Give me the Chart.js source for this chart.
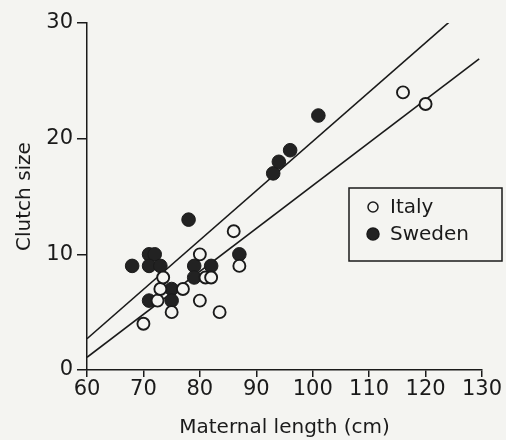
<!DOCTYPE html>
<html lang="en">
<head>
  <meta charset="UTF-8" />
  <title>Clutch size vs maternal length</title>
  <script src="https://cdn.jsdelivr.net/npm/chart.js"></script>
  <style>
    body {
      margin: 0;
      background-color: #f4f4f1;
    }
    #chart {
      display: block;
    }
  </style>
</head>
<body>
  <canvas id="chart" width="506" height="440"></canvas>

  <script>
    // Italy (open circles)
    const italyLength = [70, 72.5, 73, 73.5, 75, 77, 80, 80, 81, 82, 83.5, 86, 87, 116, 120];
    const italyClutch = [4, 6, 7, 8, 5, 7, 10, 6, 8, 8, 5, 12, 9, 24, 23];

    // Sweden (filled circles)
    const swedenLength = [68, 71, 72, 71, 73, 71, 75, 75, 78, 79, 79, 82, 87, 93, 94, 96, 101];
    const swedenClutch = [9, 10, 10, 9, 9, 6, 7, 6, 13, 9, 8, 9, 10, 17, 18, 19, 22];

    // fitted lines, end points
    const upperFitX = [60, 124.7];
    const upperFitY = [2.7, 30.3];
    const lowerFitX = [60, 129.5];
    const lowerFitY = [1.1, 26.9];

    const xTicks = [60, 70, 80, 90, 100, 110, 120, 130];
    const yTicks = [0, 10, 20, 30];

    const toPoints = (xs, ys) => xs.map((x, i) => ({ x: x, y: ys[i] }));
    const ink = '#1a1a1a';
    const paper = '#f4f4f1';
    const font = '"DejaVu Sans", Arial, sans-serif';

    // legend drawn inside the plot, as in the original figure
    const boxLegend = {
      id: 'boxLegend',
      afterDraw(chart) {
        const ctx = chart.ctx;
        const sets = chart.data.datasets
          .filter(d => d.legendOrder !== undefined)
          .sort((a, b) => a.legendOrder - b.legendOrder);
        ctx.save();
        ctx.fillStyle = paper;
        ctx.fillRect(349, 188, 153, 73);
        ctx.strokeStyle = ink;
        ctx.lineWidth = 1.5;
        ctx.strokeRect(349, 188, 153, 73);
        ctx.font = '20px ' + font;
        ctx.textBaseline = 'middle';
        sets.forEach((d, i) => {
          const y = 207 + i * 27;
          ctx.beginPath();
          ctx.arc(373, y, d.filled ? 6 : 5, 0, Math.PI * 2);
          if (d.filled) {
            ctx.fillStyle = d.backgroundColor;
            ctx.fill();
          }
          ctx.lineWidth = 1.5;
          ctx.strokeStyle = ink;
          ctx.stroke();
          ctx.fillStyle = ink;
          ctx.fillText(d.label, 390, y + 1);
        });
        ctx.restore();
      }
    };

    new Chart(document.getElementById('chart'), {
      type: 'scatter',
      data: {
        datasets: [
          {
            label: 'Upper fit',
            order: 2,
            data: toPoints(upperFitX, upperFitY),
            showLine: true,
            borderColor: ink,
            borderWidth: 1.6,
            pointRadius: 0
          },
          {
            label: 'Lower fit',
            order: 2,
            data: toPoints(lowerFitX, lowerFitY),
            showLine: true,
            borderColor: ink,
            borderWidth: 1.6,
            pointRadius: 0
          },
          {
            label: 'Sweden',
            order: 1,
            legendOrder: 1,
            filled: true,
            data: toPoints(swedenLength, swedenClutch),
            backgroundColor: '#222222',
            borderColor: ink,
            borderWidth: 1,
            pointRadius: 6.8
          },
          {
            label: 'Italy',
            order: 0,
            legendOrder: 0,
            filled: false,
            data: toPoints(italyLength, italyClutch),
            backgroundColor: paper,
            borderColor: ink,
            borderWidth: 1.9,
            pointRadius: 6
          }
        ]
      },
      options: {
        responsive: false,
        animation: false,
        layout: {
          padding: { left: 0, right: 24, top: 23, bottom: 0 }
        },
        plugins: {
          legend: { display: false },
          tooltip: { enabled: false }
        },
        scales: {
          x: {
            type: 'linear',
            min: 60,
            max: 130,
            afterBuildTicks: axis => { axis.ticks = xTicks.map(v => ({ value: v })); },
            afterFit: axis => { axis.height = 70; },
            grid: { drawOnChartArea: false, drawTicks: true, tickLength: 7, color: ink, lineWidth: 1.5 },
            border: { color: ink, width: 1.5 },
            ticks: { color: ink, font: { family: font, size: 21 }, padding: 0 },
            title: {
              display: true,
              text: 'Maternal length (cm)',
              color: ink,
              font: { family: font, size: 20 },
              padding: { top: 2, bottom: 0 }
            }
          },
          y: {
            type: 'linear',
            min: 0,
            max: 30,
            afterBuildTicks: axis => { axis.ticks = yTicks.map(v => ({ value: v })); },
            afterFit: axis => { axis.width = 87; },
            grid: { drawOnChartArea: false, drawTicks: true, tickLength: 10, color: ink, lineWidth: 1.5 },
            border: { color: ink, width: 1.5 },
            ticks: { color: ink, font: { family: font, size: 21 }, padding: 4 },
            title: {
              display: true,
              text: 'Clutch size',
              color: ink,
              font: { family: font, size: 20 },
              padding: { top: 13, bottom: 0 }
            }
          }
        }
      },
      plugins: [boxLegend]
    });
  </script>
</body>
</html>
